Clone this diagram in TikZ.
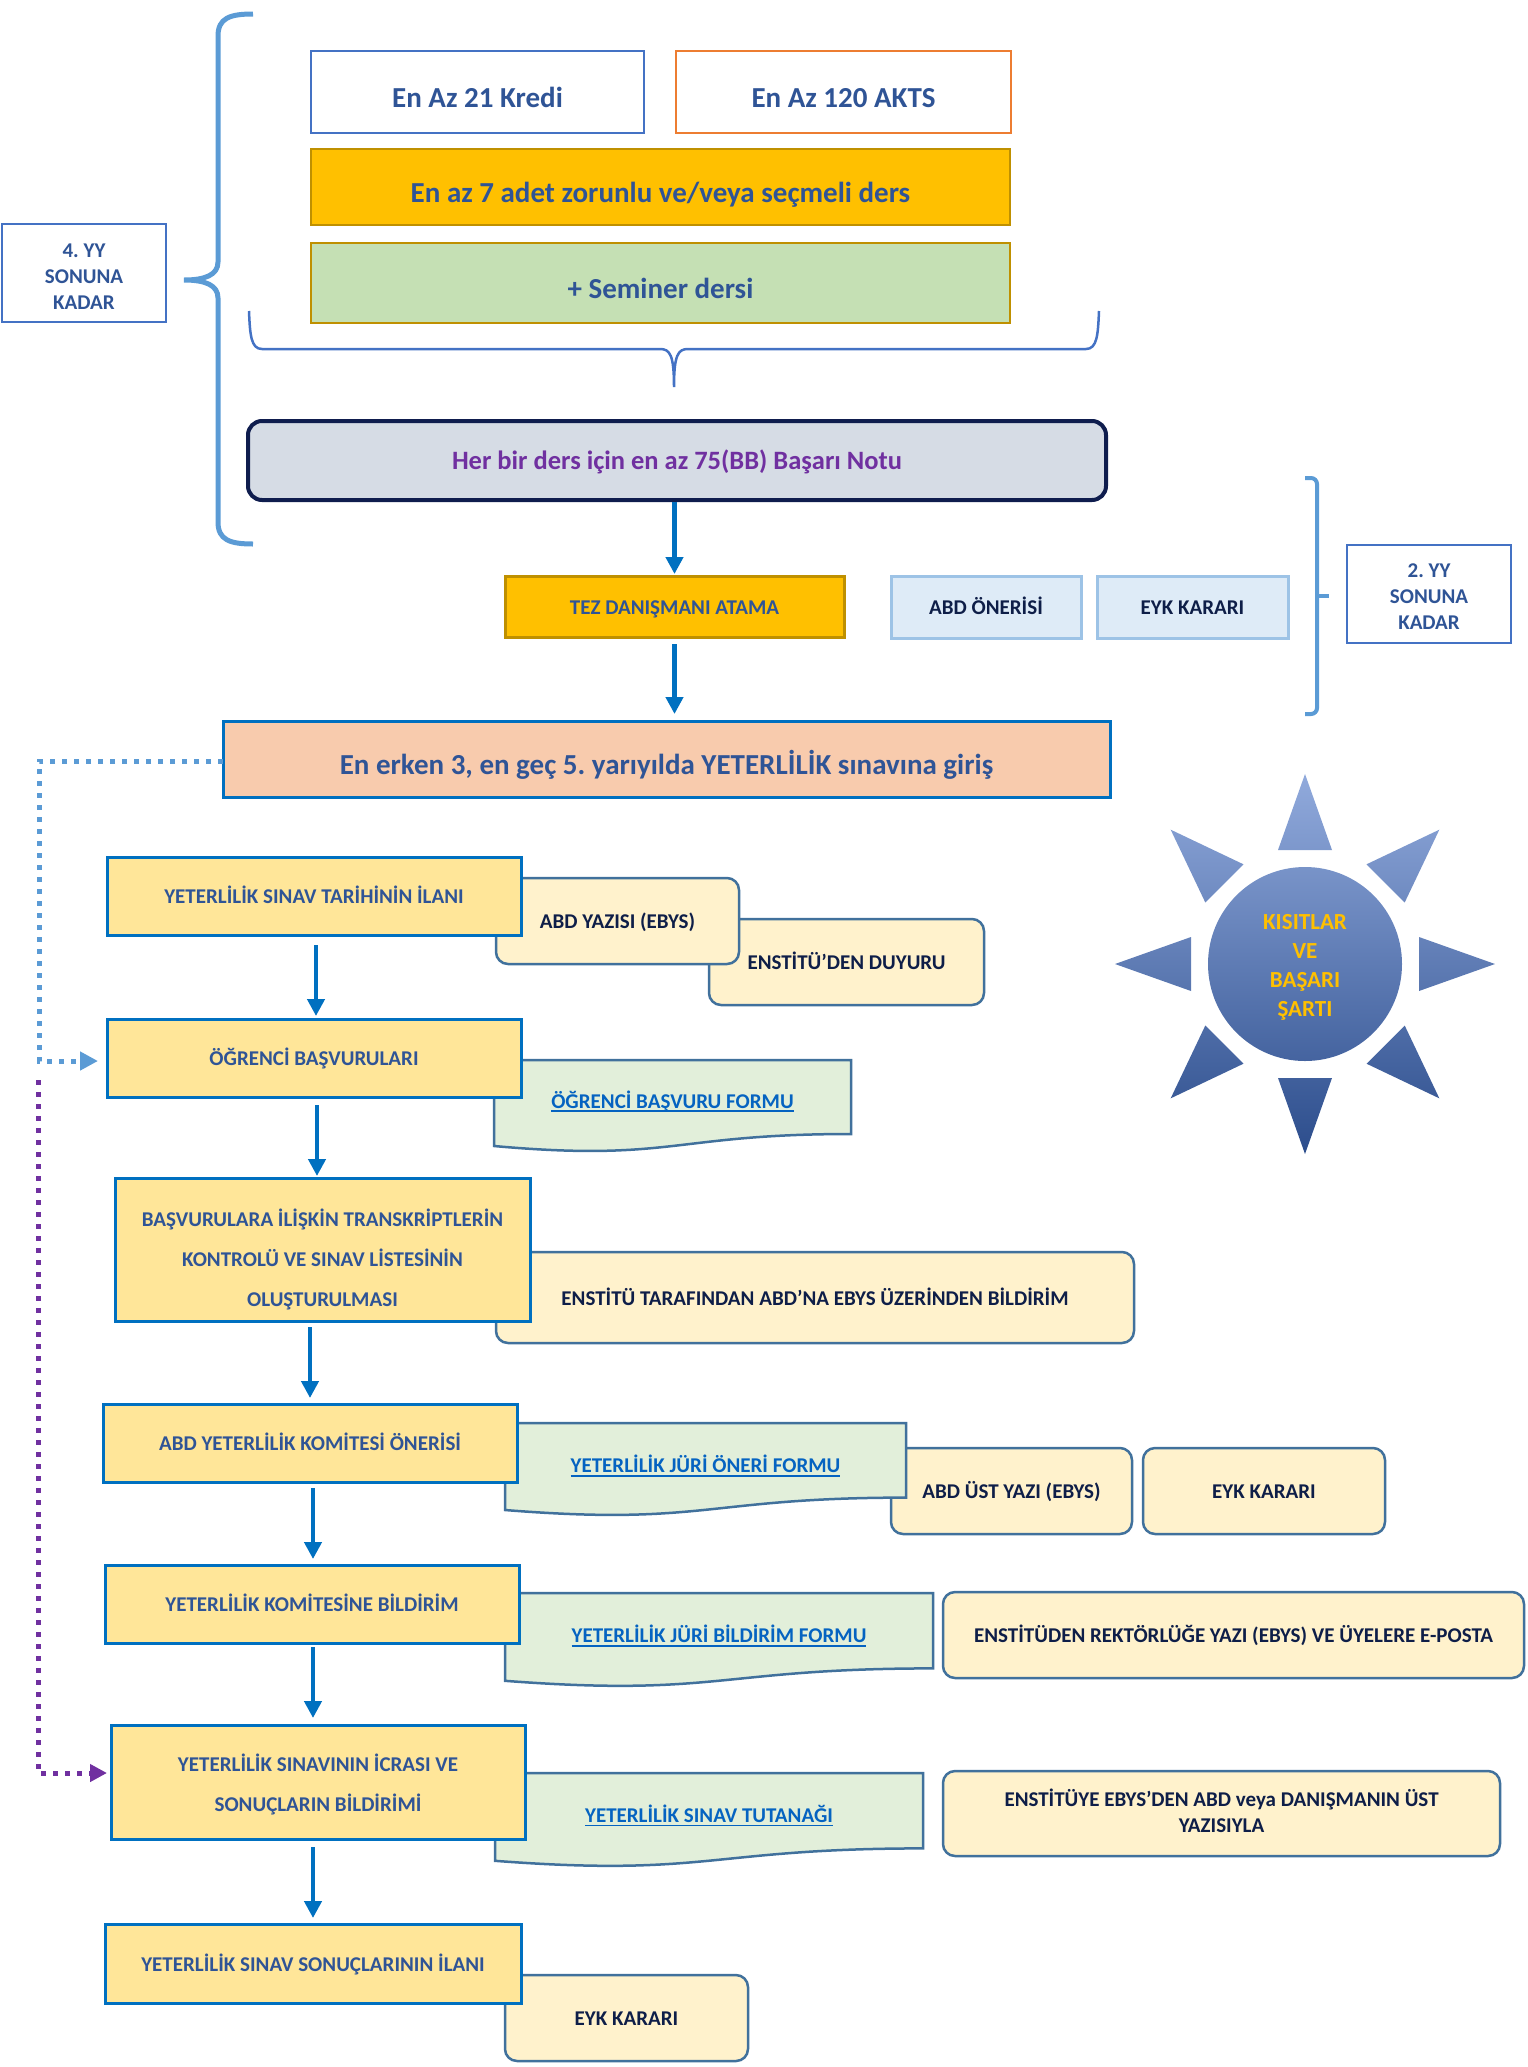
\documentclass[tikz,border=0pt]{standalone}
\usepackage{fontspec}
\setmainfont{Carlito}
\usetikzlibrary{arrows.meta,calc}
\definecolor{txtblue}{HTML}{2F5496}
\definecolor{navy}{HTML}{0E1E48}
\definecolor{linkblue}{HTML}{0563C1}
\definecolor{purp}{HTML}{7030A0}
\definecolor{goldf}{HTML}{FFC000}
\definecolor{goldb}{HTML}{BF9000}
\definecolor{greenf}{HTML}{C5E0B4}
\definecolor{stepf}{HTML}{FFE699}
\definecolor{stepb}{HTML}{0070C0}
\definecolor{creamf}{HTML}{FFF2CC}
\definecolor{creamb}{HTML}{41719C}
\definecolor{docf}{HTML}{E2EFDA}
\definecolor{peach}{HTML}{F8CBAD}
\definecolor{lbf}{HTML}{DEEBF7}
\definecolor{lbb}{HTML}{9DC3E6}
\definecolor{grayf}{HTML}{D6DCE5}
\definecolor{grayb}{HTML}{0F1D4E}
\definecolor{bracec}{HTML}{5B9BD5}
\definecolor{boxblue}{HTML}{4472C4}
\definecolor{orangeb}{HTML}{ED7D31}
\definecolor{arrowc}{HTML}{0070C0}
\definecolor{sunTop}{RGB}{145,170,220}
\definecolor{sunMid}{RGB}{76,120,198}
\definecolor{sunBot}{RGB}{44,77,140}
\definecolor{suntxt}{HTML}{FFC000}
\newcommand\ulink[1]{\setbox0=\hbox{#1}\rlap{\copy0}\rule[-4pt]{\wd0}{1.8pt}}
\tikzset{
  bx/.style={draw, inner sep=0pt, outer sep=0pt, align=center},
  sz/.style 2 args={minimum width=#1, minimum height=#2},
  c29/.style={text height=30pt, text depth=0pt},
  c21/.style={text height=15pt, text depth=0pt},
  topbox/.style={bx, c29, fill=white, line width=2.5pt, text=txtblue, font=\bfseries\fontsize{29pt}{34pt}\selectfont},
  barbox/.style={bx, c29, draw=goldb, line width=2.5pt, text=txtblue, font=\bfseries\fontsize{29pt}{34pt}\selectfont},
  yybox/.style={bx, draw=boxblue, fill=white, line width=2.5pt},
  yytext/.style={inner sep=0pt, align=center, text=txtblue, font=\bfseries\fontsize{21pt}{26pt}\selectfont},
  herbox/.style={bx, text height=18pt, text depth=0pt, draw=grayb, fill=grayf, line width=4pt, rounded corners=14pt, text=purp, font=\bfseries\fontsize{26.5pt}{30pt}\selectfont},
  tezbox/.style={bx, c21, draw=goldb, fill=goldf, line width=3pt, text=txtblue, font=\bfseries\fontsize{21pt}{26pt}\selectfont},
  lbbox/.style={bx, c21, draw=lbb, fill=lbf, line width=3pt, text=navy, font=\bfseries\fontsize{21pt}{26pt}\selectfont},
  erkenbox/.style={bx, c29, draw=stepb, fill=peach, line width=3pt, text=txtblue, font=\bfseries\fontsize{29pt}{34pt}\selectfont},
  stepbox/.style={bx, c21, draw=stepb, fill=stepf, line width=3pt, text=txtblue, font=\bfseries\fontsize{21pt}{40pt}\selectfont},
  steptext/.style={inner sep=0pt, align=center, text=txtblue, font=\bfseries\fontsize{21pt}{40pt}\selectfont},
  creambox/.style={bx, c21, draw=creamb, fill=creamf, line width=2.5pt, rounded corners=12pt, text=navy, font=\bfseries\fontsize{21pt}{26pt}\selectfont},
  creamtext/.style={inner sep=0pt, align=center, text=navy, font=\bfseries\fontsize{21pt}{26pt}\selectfont},
  docshape/.style={draw=creamb, fill=docf, line width=2.5pt},
  linktext/.style={inner sep=0pt, outer sep=0pt, text=linkblue, font=\bfseries\fontsize{21pt}{26pt}\selectfont},
  suntext/.style={inner sep=0pt, align=center, text=suntxt, font=\bfseries\fontsize{23pt}{29pt}\selectfont},
  bigbrace/.style={draw=bracec, line width=5pt},
  midbrace/.style={draw=boxblue, line width=2.5pt},
  arr/.style={draw=arrowc, line width=4.5pt, -{Triangle[length=17pt,width=17pt]}},
  bluedot/.style={draw=bracec, line width=5pt, dash pattern=on 5pt off 7pt, -{Triangle[length=18pt,width=18pt]}},
  purpdot/.style={draw=purp, line width=5pt, dash pattern=on 5pt off 7pt, -{Triangle[length=17pt,width=17pt]}}
}
\begin{document}
\frenchspacing
\begin{tikzpicture}[x=1pt,y=-1pt]
\useasboundingbox (0,0) rectangle (1527,2067);

% ---------- braces ----------
\draw[bigbrace] (253,14) .. controls (230,14) and (218,18) .. (218,36) -- (218,262)
  .. controls (218,275) and (205,280) .. (184,280)
  .. controls (205,280) and (218,285) .. (218,298) -- (218,522)
  .. controls (218,540) and (230,544) .. (253,544);
\draw[midbrace] (249,311) .. controls (250,335) and (251,349) .. (262,349) -- (660,349)
  .. controls (670,349) and (674,355) .. (674,387)
  .. controls (674,355) and (678,349) .. (688,349) -- (1086,349)
  .. controls (1097,349) and (1098,335) .. (1099,311);
\draw[bigbrace, line width=4pt, rounded corners=6pt] (1305,478) -| (1317,714) -- (1305,714);
\draw[bigbrace, line width=4pt] (1317,596) -- (1329,596);

% ---------- top boxes ----------
\node[yybox, sz={164}{98}] (yy4) at (84,273) {};
\node[yytext] (yy4t) at (84,277) {4. YY\\SONUNA\\KADAR};
\node[topbox, draw=boxblue, sz={333}{82}] (kredi) at (477.5,92) {En Az 21 Kredi};
\node[topbox, draw=orangeb, sz={335}{82}] (akts) at (843.5,92) {En Az 120 AKTS};
\node[barbox, fill=goldf, sz={699}{76}] (yedi) at (660.5,187) {En az 7 adet zorunlu ve/veya seçmeli ders};
\node[barbox, fill=greenf, sz={699}{80}] (seminer) at (660.5,283) {+ Seminer dersi};
\node[herbox, sz={858}{79}] (herbir) at (677,460.5) {Her bir ders için en az 75(BB) Başarı Notu};
\node[tezbox, sz={339}{61}] (tez) at (674.5,606.5) {TEZ DANIŞMANI ATAMA};
\node[lbbox, sz={190}{62}] (abdoneri) at (986,607) {ABD ÖNERİSİ};
\node[lbbox, sz={191}{62}] (eyk1) at (1192.5,607) {EYK KARARI};
\node[yybox, sz={164}{98}] (yy2) at (1429,594) {};
\node[yytext] (yy2t) at (1429,597) {2. YY\\SONUNA\\KADAR};
\node[erkenbox, sz={887}{76}] (erken) at (666.5,759) {En erken 3, en geç 5. yarıyılda YETERLİLİK sınavına giriş};

% ---------- sun ----------
\coordinate (sunc) at (1305,964);
\shade[top color=sunTop, middle color=sunMid, bottom color=sunBot]
  (sunc) circle[radius=97]
  \foreach \a in {0,45,...,315} {
    ($(sunc)+(\a:190)$) -- ($(sunc)+(\a:114)+(\a+90:27)$) -- ($(sunc)+(\a:114)+(\a-90:27)$) -- cycle
  };
\node[suntext] (sun) at (1305,967) {KISITLAR\\VE\\BAŞARI\\ŞARTI};

% ---------- step 1 ----------
\node[creambox, sz={275}{86}] (c2) at (846.5,962) {ENSTİTÜ’DEN DUYURU};
\node[creambox, sz={243}{86}] (c1) at (617.5,921) {ABD YAZISI (EBYS)};
\node[stepbox, sz={414}{78}] (s1) at (314,896) {YETERLİLİK SINAV TARİHİNİN İLANI};

% ---------- step 2 ----------
\draw[docshape] (494,1060) -- (851,1060) -- (851,1134) .. controls (672.5,1134) and (672.5,1162) .. (494,1146) -- cycle;
\node[linktext] (d1) at (672.5,1101.5) {\ulink{ÖĞRENCİ BAŞVURU FORMU}};
\node[stepbox, sz={414}{78}] (s2) at (314,1058) {ÖĞRENCİ BAŞVURULARI};

% ---------- step 3 ----------
\node[creambox, sz={638}{91}] (c3) at (815,1297.5) {ENSTİTÜ TARAFINDAN ABD’NA EBYS ÜZERİNDEN BİLDİRİM};
\node[stepbox, sz={415}{143}] (s3) at (322.5,1249.5) {};
\node[steptext] (s3t) at (322.5,1259) {BAŞVURULARA İLİŞKİN TRANSKRİPTLERİN\\KONTROLÜ VE SINAV LİSTESİNİN\\OLUŞTURULMASI};

% ---------- step 4 ----------
\node[creambox, sz={241}{86}] (c4) at (1011.5,1491) {ABD ÜST YAZI (EBYS)};
\node[creambox, sz={242}{86}] (c5) at (1264,1491) {EYK KARARI};
\draw[docshape] (505,1423) -- (906,1423) -- (906,1497.6) .. controls (705.5,1497.6) and (705.5,1526) .. (505,1510) -- cycle;
\node[linktext] (d2) at (705.5,1466) {\ulink{YETERLİLİK JÜRİ ÖNERİ FORMU}};
\node[stepbox, sz={414}{78}] (s4) at (310,1443) {ABD YETERLİLİK KOMİTESİ ÖNERİSİ};

% ---------- step 5 ----------
\draw[docshape] (505,1593) -- (933,1593) -- (933,1668.4) .. controls (719,1668.4) and (719,1697.1) .. (505,1680.8) -- cycle;
\node[linktext] (d3) at (719,1636) {\ulink{YETERLİLİK JÜRİ BİLDİRİM FORMU}};
\node[creambox, sz={581}{86}] (c6) at (1233.5,1635) {ENSTİTÜDEN REKTÖRLÜĞE YAZI (EBYS) VE ÜYELERE E-POSTA};
\node[stepbox, sz={414}{78}] (s5) at (312,1604) {YETERLİLİK KOMİTESİNE BİLDİRİM};

% ---------- step 6 ----------
\draw[docshape] (495,1773) -- (923,1773) -- (923,1848.4) .. controls (709,1848.4) and (709,1877.1) .. (495,1860.8) -- cycle;
\node[linktext] (d4) at (709,1815.5) {\ulink{YETERLİLİK SINAV TUTANAĞI}};
\node[creambox, sz={557}{85}] (c7) at (1221.5,1813.5) {};
\node[creamtext] (c7t) at (1221.5,1811) {ENSTİTÜYE EBYS’DEN ABD veya DANIŞMANIN ÜST\\YAZISIYLA};
\node[stepbox, sz={414}{114}] (s6) at (318,1782) {};
\node[steptext] (s6t) at (318,1784.5) {YETERLİLİK SINAVININ İCRASI VE\\SONUÇLARIN BİLDİRİMİ};

% ---------- step 7 ----------
\node[creambox, sz={243}{86}] (c8) at (626.5,2018) {EYK KARARI};
\node[stepbox, sz={416}{79}] (s7) at (313,1963.5) {YETERLİLİK SINAV SONUÇLARININ İLANI};

% ---------- arrows ----------
\draw[arr] ([yshift=-2pt]herbir.south -| tez.north) -- ([yshift=2pt]tez.north);
\draw[arr] ([yshift=-7pt]tez.south) -- ([yshift=7pt]tez.south |- erken.north);
\draw[arr] ([yshift=-10pt,xshift=2pt]s1.south) -- ([yshift=3pt,xshift=2pt]s1.south |- s2.north);
\draw[arr] ([yshift=-8pt,xshift=3pt]s2.south) -- ([yshift=2pt,xshift=3pt]s2.south |- s3.north);
\draw[arr] ([yshift=-6pt]s3.south -| s4.north) -- ([yshift=6pt]s4.north);
\draw[arr] ([yshift=-6pt,xshift=3pt]s4.south) -- ([yshift=6pt,xshift=3pt]s4.south |- s5.north);
\draw[arr] ([yshift=-4pt,xshift=1pt]s5.south) -- ([yshift=7pt,xshift=1pt]s5.south |- s6.north);
\draw[arr] ([yshift=-8pt]s6.south -| s7.north) -- ([yshift=6pt]s7.north);

% ---------- dotted connectors ----------
\coordinate (bendA) at (39,761);
\draw[bluedot, shorten >=9pt] ([yshift=-2pt]erken.west) -- (bendA) |- ([yshift=-3pt]s2.west);
\coordinate (pstart) at (38,1080);
\draw[purpdot, shorten >=4pt] (pstart) |- ([yshift=9pt]s6.west);
\end{tikzpicture}
\end{document}
